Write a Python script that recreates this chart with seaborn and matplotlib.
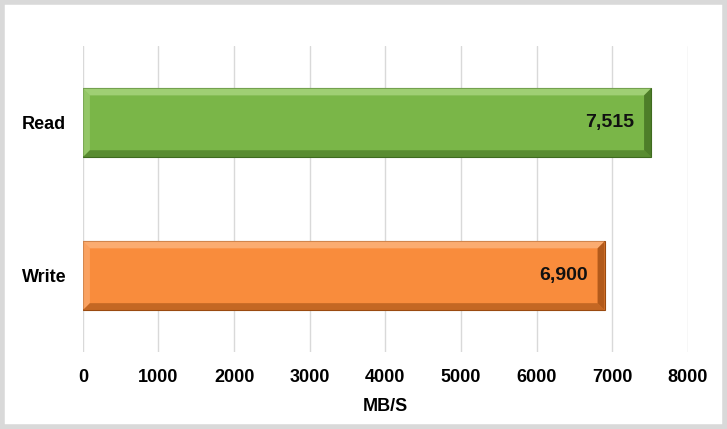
import matplotlib
matplotlib.use('Agg')
import matplotlib.pyplot as plt
import seaborn as sns
import pandas as pd
from matplotlib.patches import Polygon, Rectangle

# data
categories = ['Read', 'Write']
speeds = [7515, 6900]
bar_colors = ['#7ab648', '#f98c3c']
edge_dark = ['#3f6b1f', '#9a4a10']
edge_light = ['#a6d47c', '#fcb27a']

df = pd.DataFrame({'op': categories, 'mbs': speeds})

sns.set_theme(style='whitegrid')
plt.rcParams['font.family'] = ['Liberation Sans', 'DejaVu Sans']

fig = plt.figure(figsize=(7.27, 4.29), dpi=100)
ax = fig.add_axes([0.114, 0.179, 0.832, 0.713])

sns.barplot(data=df, x='mbs', y='op', hue='op', palette=bar_colors,
            width=0.45, legend=False, ax=ax, saturation=1)

ax.set_xlim(0, 8000)
ax.set_ylim(1.5, -0.5)
ax.set_xticks(range(0, 8001, 1000))
ax.grid(axis='x', color='#d9d9d9', linewidth=1)
ax.grid(axis='y', visible=False)
for s in ax.spines.values():
    s.set_visible(False)
ax.tick_params(axis='x', length=0, labelsize=13, pad=12, labelcolor='black')
ax.tick_params(axis='y', length=0, labelsize=13, pad=12, labelcolor='black')
for lbl in ax.get_xticklabels() + ax.get_yticklabels():
    lbl.set_fontweight('bold')
ax.set_ylabel('')
ax.set_xlabel('MB/S', fontsize=13, fontweight='bold', labelpad=9, color='black')

# bevel effect derived from each bar's geometry
fig.canvas.draw()
inv = ax.transData.inverted()
for i, p in enumerate(ax.patches[:len(speeds)]):
    x0, y0 = p.get_x(), p.get_y()
    w, h = p.get_width(), p.get_height()
    x1, y1 = x0 + w, y0 + h
    # bevel size in data units (~7 px)
    a = ax.transData.transform((0, 0))
    b = inv.transform((a[0] + 7, a[1] + 7))
    dx = b[0]
    dy = abs(b[1] - inv.transform(a)[1])
    p.set_edgecolor(edge_dark[i])
    p.set_linewidth(0.8)
    # top (y0 is top since axis inverted)
    ax.add_patch(Polygon([(x0, y0), (x1, y0), (x1 - dx, y0 + dy), (x0 + dx, y0 + dy)],
                         closed=True, facecolor=edge_light[i], edgecolor='none', alpha=0.85))
    # left
    ax.add_patch(Polygon([(x0, y0), (x0 + dx, y0 + dy), (x0 + dx, y1 - dy), (x0, y1)],
                         closed=True, facecolor=edge_light[i], edgecolor='none', alpha=0.6))
    # bottom
    ax.add_patch(Polygon([(x0, y1), (x0 + dx, y1 - dy), (x1 - dx, y1 - dy), (x1, y1)],
                         closed=True, facecolor=edge_dark[i], edgecolor='none', alpha=0.55))
    # right
    ax.add_patch(Polygon([(x1, y0), (x1, y1), (x1 - dx, y1 - dy), (x1 - dx, y0 + dy)],
                         closed=True, facecolor=edge_dark[i], edgecolor='none', alpha=0.75))
    ax.text(x1 - dx - 130, y0 + h / 2, f'{speeds[i]:,}', ha='right', va='center',
            fontsize=14, fontweight='bold', color='#111111')

# light grey frame around figure
fig.patches.append(Rectangle((0.003, 0.005), 0.994, 0.99, transform=fig.transFigure,
                             fill=False, edgecolor='#d9d9d9', linewidth=4))

fig.savefig('out.png', dpi=100)
